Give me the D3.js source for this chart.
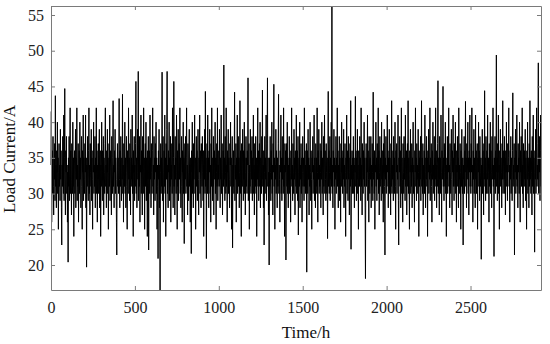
<!DOCTYPE html>
<html>
<head>
<meta charset="utf-8">
<script src="https://cdn.jsdelivr.net/npm/d3@7"></script>
<style>
  body { margin: 0; background: #fff; }
  svg { display: block; }
  .axis path, .axis line { stroke: #7a7a7a; }
  .axis text { font-family: "Liberation Serif", "Times New Roman", serif; font-size: 16px; fill: #222; }
  .label { font-family: "Liberation Serif", "Times New Roman", serif; font-size: 17px; fill: #111; }
</style>
</head>
<body>
<svg></svg>
<script>
/* global d3 */

// load current readings, one every STEP hours
const STEP = 2;
const current = [
  34, 41.5, 26, 33, 36, 30, 38, 31, 27, 35, 32, 37, 29, 43.7, 31, 34, 28, 36, 33, 40,
  30, 35, 25, 33, 37, 31, 34, 29, 39, 32, 36, 28, 22.8, 34, 31, 38, 33, 30, 41, 29,
  35, 44.7, 31, 27, 36, 33, 38, 30, 34, 26,
  33, 20.4, 35, 31, 38, 29, 34, 42, 30, 36, 32, 27, 37, 33, 30, 40, 31, 35, 24, 34,
  36, 30, 33, 39, 28, 35, 32, 42, 29, 34, 31, 37, 26, 33, 36, 30, 40, 32, 35, 28,
  34, 38, 31, 25, 36, 33, 41, 29, 35, 32,
  30, 37, 33, 41, 28, 35, 19.7, 34, 31, 38, 32, 29, 36, 42, 30, 34, 27, 37, 33, 31,
  39, 29, 35, 32, 25, 36, 33, 40, 30, 34, 31, 38, 28, 35, 33, 42, 30, 36, 26, 34,
  32, 37, 30, 35, 39, 28, 33, 36, 24, 34,
  31, 40, 33, 29, 36, 32, 38, 27, 35, 33, 30, 37, 42, 31, 34, 28, 36, 33, 39, 30,
  35, 25, 33, 37, 31, 41, 29, 34, 36, 32, 27, 38, 33, 30, 35, 43, 31, 34, 28, 36,
  33, 39, 30, 35, 32, 26, 21.4, 34, 37, 31,
  35, 30, 33, 43.3, 32, 28, 36, 31, 38, 33, 29, 35, 32, 43.9, 30, 34, 26, 37, 33, 31,
  40, 30, 35, 28, 33, 38, 31, 25, 36, 34, 30, 42, 32, 35, 29, 37, 33, 27, 39, 31,
  35, 32, 41, 30, 34, 24, 36, 33, 38, 29,
  34, 31, 37, 45.7, 30, 35, 28, 33, 39, 32, 47.1, 29, 35, 31, 38, 26, 34, 33, 41, 30,
  36, 32, 27, 38, 33, 30, 42, 31, 35, 25, 34, 37, 31, 40, 29, 35, 33, 24, 36, 32,
  38, 22.1, 33, 36, 30, 41, 32, 35, 28, 37,
  33, 30, 36, 42, 31, 34, 27, 38, 32, 35, 29, 37, 33, 40, 30, 35, 25, 34, 31, 20.9,
  36, 32, 39, 28, 34, 16.5, 33, 37, 30, 35, 31, 47.0, 29, 34, 38, 26, 33, 36, 31, 41,
  30, 35, 24, 37, 32, 39, 47.1, 30, 34, 28,
  36, 33, 40, 29, 35, 31, 38, 26, 34, 32, 37, 30, 42, 33, 28, 35, 45.7, 31, 34, 27,
  38, 32, 35, 30, 41, 33, 25, 36, 31, 39, 29, 34, 37, 32, 42, 30, 35, 28, 33, 38,
  31, 26, 36, 33, 40, 30, 35, 23, 34, 37,
  32, 38, 30, 35, 42, 31, 34, 27, 37, 33, 29, 36, 39, 31, 34, 26, 35, 32, 21.6, 36,
  33, 40, 30, 35, 28, 37, 32, 34, 41, 30, 35, 25, 33, 38, 31, 36, 29, 34, 39, 32,
  27, 35, 33, 41, 30, 36, 32, 28, 37, 34,
  31, 38, 33, 29, 36, 24, 34, 32, 39, 30, 44.3, 31, 35, 20.9, 33, 37, 30, 41, 32, 35,
  28, 36, 33, 39, 30, 34, 26, 37, 31, 42, 33, 29, 35, 31, 38, 27, 34, 36, 32, 40,
  30, 35, 25, 33, 37, 31, 42, 29, 34, 32,
  36, 31, 39, 33, 28, 35, 32, 41, 30, 34, 37, 27, 33, 36, 31, 48.0, 32, 35, 29, 38,
  33, 30, 42, 31, 34, 26, 36, 33, 39, 30, 35, 32, 28, 37, 34, 40, 31, 35, 25, 33,
  38, 22.4, 34, 31, 36, 30, 35, 44.2, 29, 34,
  32, 37, 26, 35, 33, 41, 30, 34, 38, 31, 35, 28, 33, 43, 30, 36, 32, 24, 37, 33,
  31, 39, 34, 29, 36, 32, 40, 30, 35, 27, 33, 38, 31, 35, 30, 36, 34, 46.2, 29, 33,
  37, 25, 34, 31, 39, 33, 30, 36, 32, 38,
  29, 35, 32, 41, 30, 34, 27, 37, 33, 31, 38, 30, 35, 24, 34, 32, 42, 31, 36, 29,
  33, 37, 31, 40, 28, 35, 33, 30, 38, 32, 44.5, 31, 34, 28, 36, 22.8, 33, 38, 30, 35,
  32, 41, 29, 34, 37, 46.2, 31, 35, 27, 33,
  20.0, 35, 31, 38, 33, 29, 36, 32, 40, 30, 34, 27, 37, 33, 45.3, 31, 35, 25, 34, 32,
  39, 30, 36, 33, 28, 35, 31, 37, 43.9, 30, 34, 32, 26, 36, 33, 41, 30, 35, 29, 38,
  32, 35, 30, 42, 31, 34, 24, 37, 33, 36,
  20.7, 33, 37, 31, 40, 30, 35, 28, 34, 32, 38, 30, 35, 33, 26, 36, 32, 42, 31, 34,
  29, 37, 33, 30, 39, 32, 35, 27, 36, 33, 31, 41, 30, 34, 36, 29, 38, 24.2, 33, 35,
  31, 40, 28, 34, 32, 37, 30, 35, 26, 33,
  38, 31, 35, 33, 29, 42, 31, 36, 30, 34, 32, 37, 19.0, 33, 36, 30, 39, 32, 35, 27,
  34, 31, 40, 33, 29, 36, 32, 25, 35, 33, 38, 30, 34, 32, 41, 29, 35, 33, 28, 37,
  31, 35, 30, 42, 33, 26, 36, 32, 39, 30,
  34, 31, 37, 33, 28, 36, 32, 40, 30, 35, 33, 27, 38, 31, 34, 41, 30, 36, 32, 29,
  37, 33, 30, 35, 23.7, 34, 44.3, 31, 36, 30, 33, 38, 29, 35, 32, 40, 31, 56.26, 30, 34,
  28, 36, 33, 39, 31, 35, 25, 34, 32, 38,
  30, 35, 33, 42, 31, 36, 28, 34, 32, 38, 29, 35, 33, 26, 37, 31, 40, 33, 35, 30,
  36, 32, 39, 28, 34, 31, 37, 33, 24, 35, 32, 41, 30, 34, 36, 29, 38, 32, 35, 27,
  33, 37, 31, 43, 22.2, 34, 32, 36, 30, 35,
  32, 38, 30, 35, 28, 34, 33, 43.6, 31, 36, 29, 35, 32, 39, 30, 34, 25, 36, 33, 31,
  38, 32, 35, 29, 42, 31, 34, 27, 37, 33, 30, 36, 32, 40, 31, 35, 28, 18.1, 34, 37,
  31, 35, 33, 41, 29, 36, 32, 26, 38, 33,
  30, 35, 32, 38, 28, 34, 31, 37, 33, 29, 44.2, 32, 35, 30, 36, 25, 34, 33, 40, 31,
  35, 29, 37, 32, 34, 42, 30, 36, 27, 33, 38, 31, 35, 33, 29, 40, 32, 36, 30, 34,
  26, 37, 33, 39, 31, 21.4, 35, 32, 38, 30,
  34, 31, 41, 33, 36, 28, 35, 32, 39, 30, 35, 33, 27, 37, 31, 43, 30, 34, 32, 36,
  29, 38, 33, 35, 30, 40, 31, 25, 36, 33, 37, 30, 34, 32, 41, 29, 22.8, 35, 33, 38,
  31, 36, 28, 34, 42, 30, 35, 32, 26, 37,
  33, 30, 38, 32, 35, 29, 41, 31, 34, 36, 27, 33, 37, 31, 43, 30, 35, 32, 25, 36,
  33, 39, 30, 34, 31, 37, 28, 35, 33, 40, 30, 34, 32, 26, 36, 33, 42, 31, 35, 29,
  37, 32, 34, 30, 39, 33, 24, 36, 31, 35,
  32, 38, 29, 34, 43, 31, 35, 30, 37, 27, 34, 32, 36, 30, 41, 33, 28, 35, 32, 38,
  31, 35, 24, 36, 33, 39, 30, 34, 32, 42, 29, 35, 33, 37, 31, 26, 36, 32, 40, 30,
  34, 33, 38, 29, 35, 32, 42, 31, 36, 28,
  34, 31, 37, 45.8, 30, 35, 33, 27, 38, 32, 35, 30, 41, 33, 26, 36, 32, 34, 45.0, 31,
  35, 29, 37, 33, 31, 40, 30, 35, 24, 34, 32, 38, 30, 36, 33, 42, 31, 34, 28, 37,
  33, 30, 35, 39, 32, 27, 36, 33, 41, 31,
  35, 29, 37, 33, 31, 40, 30, 34, 26, 36, 33, 38, 31, 35, 28, 42, 32, 34, 30, 37,
  33, 25, 36, 31, 39, 33, 30, 35, 22.8, 34, 32, 38, 30, 36, 33, 42.9, 31, 35, 28, 37,
  32, 34, 40, 30, 35, 27, 36, 33, 41, 31,
  35, 30, 37, 33, 42, 31, 34, 26, 36, 32, 39, 30, 35, 33, 28, 41, 32, 36, 30, 34,
  37, 25, 35, 33, 40, 31, 36, 29, 38, 33, 31, 35, 20.8, 34, 32, 39, 30, 36, 33, 27,
  37, 32, 44.4, 31, 35, 29, 38, 33, 30, 36,
  32, 41, 30, 35, 33, 26, 37, 31, 34, 40, 30, 36, 33, 28, 38, 32, 35, 42, 31, 34,
  21.2, 35, 32, 38, 30, 36, 33, 49.4, 31, 35, 29, 37, 33, 41, 30, 34, 25, 36, 32, 39,
  31, 35, 33, 28, 37, 32, 43, 30, 34, 36,
  32, 38, 30, 35, 27, 36, 33, 40, 31, 34, 29, 37, 33, 35, 42, 31, 34, 26, 36, 32,
  38, 30, 35, 33, 29, 36, 44.1, 31, 34, 32, 37, 21.4, 35, 33, 39, 30, 36, 32, 41, 31,
  34, 28, 37, 33, 35, 30, 40, 32, 26, 36,
  33, 38, 31, 35, 42, 30, 34, 28, 37, 33, 31, 36, 32, 39, 29, 35, 33, 25, 36, 32,
  40, 30, 35, 33, 28, 37, 31, 43, 32, 35, 30, 36, 33, 27, 38, 31, 34, 41, 30, 35,
  33, 21.8, 36, 32, 39, 30, 35, 42, 31, 34,
  32, 37, 48.3, 30, 35, 33, 38, 29, 36, 41, 31
];

const xTicks = [0, 500, 1000, 1500, 2000, 2500];
const yTicks = [20, 25, 30, 35, 40, 45, 50, 55];

const WIDTH  = 550;
const HEIGHT = 344;
const margin = { top: 6, right: 9, bottom: 54, left: 51 };
const width  = WIDTH  - margin.left - margin.right;
const height = HEIGHT - margin.top - margin.bottom;

const x = d3.scaleLinear()
  .domain([0, (current.length - 1) * STEP])
  .range([0, width]);

const y = d3.scaleLinear()
  .domain(d3.extent(current))
  .range([height, 0]);

const svg = d3.select("svg")
  .attr("width", WIDTH)
  .attr("height", HEIGHT)
  .append("g")
  .attr("transform", `translate(${margin.left},${margin.top})`);

svg.append("path")
  .datum(current)
  .attr("fill", "none")
  .attr("stroke", "#000")
  .attr("stroke-width", 1)
  .attr("d", d3.line()
    .x((d, i) => x(i * STEP))
    .y(d => y(d)));

// box with inward ticks on all four sides
svg.append("g")
  .attr("class", "axis")
  .attr("transform", `translate(0,${height})`)
  .call(d3.axisBottom(x).tickValues(xTicks).tickFormat(d3.format("d"))
    .tickSizeInner(-4).tickSizeOuter(0).tickPadding(12));

svg.append("g")
  .attr("class", "axis")
  .call(d3.axisLeft(y).tickValues(yTicks).tickSizeInner(-4).tickSizeOuter(0).tickPadding(7));

svg.append("g")
  .attr("class", "axis")
  .call(d3.axisTop(x).tickValues(xTicks).tickSizeInner(-4).tickSizeOuter(0).tickFormat(""));

svg.append("g")
  .attr("class", "axis")
  .attr("transform", `translate(${width},0)`)
  .call(d3.axisRight(y).tickValues(yTicks).tickSizeInner(-4).tickSizeOuter(0).tickFormat(""));

svg.append("text")
  .attr("class", "label")
  .attr("text-anchor", "middle")
  .attr("x", 255)
  .attr("y", 332)
  .text("Time/h");

svg.append("text")
  .attr("class", "label")
  .attr("text-anchor", "middle")
  .attr("transform", "translate(-36,153) rotate(-90)")
  .text("Load Current/A");
</script>
</body>
</html>
